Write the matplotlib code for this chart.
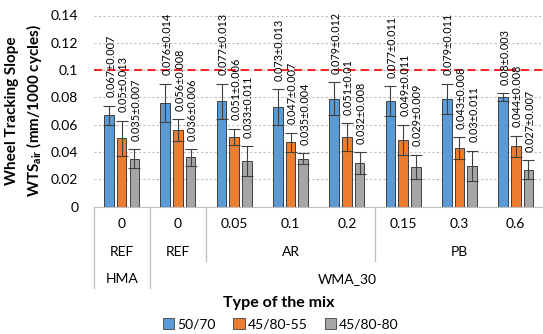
import matplotlib
matplotlib.use("Agg")
import matplotlib.pyplot as plt
from matplotlib.transforms import blended_transform_factory
from matplotlib.patches import Patch

plt.rcParams['font.family'] = ['Lato', 'DejaVu Sans']

dosage = ["0", "0", "0.05", "0.1", "0.2", "0.15", "0.3", "0.6"]
additive = ["REF", "REF", "AR", "AR", "AR", "PB", "PB", "PB"]
mix = ["HMA", "WMA_30", "WMA_30", "WMA_30", "WMA_30", "WMA_30", "WMA_30", "WMA_30"]

series_names = ["50/70", "45/80-55", "45/80-80"]
v_5070 = [0.067, 0.076, 0.077, 0.073, 0.079, 0.077, 0.079, 0.08]
e_5070 = [0.007, 0.014, 0.013, 0.013, 0.012, 0.011, 0.011, 0.003]
v_4580_55 = [0.05, 0.056, 0.051, 0.047, 0.051, 0.049, 0.043, 0.044]
e_4580_55 = [0.013, 0.008, 0.006, 0.007, 0.01, 0.011, 0.008, 0.008]
v_4580_80 = [0.035, 0.036, 0.033, 0.035, 0.032, 0.029, 0.03, 0.027]
e_4580_80 = [0.007, 0.006, 0.011, 0.004, 0.008, 0.009, 0.011, 0.007]
threshold = 0.1

colors = ["#5B9BD5", "#ED7D31", "#A5A5A5"]
values = [v_5070, v_4580_55, v_4580_80]
errors = [e_5070, e_4580_55, e_4580_80]

W, H = 543, 334
fig = plt.figure(figsize=(W / 100, H / 100), dpi=100)
ax = fig.add_axes([93.5 / W, (H - 206.5) / H, 1 - 93.5 / W, 191 / H])

n = len(dosage)
xs = list(range(n))
bw = 0.17
step = 0.225
for i, (vals, errs, c) in enumerate(zip(values, errors, colors)):
    pos = [x + (i - 1) * step for x in xs]
    ax.bar(pos, vals, width=bw, color=c, edgecolor="#404040", linewidth=0.7, zorder=3)
    ax.errorbar(pos, vals, yerr=errs, fmt="none", ecolor="#404040", elinewidth=0.8,
                capsize=4.5, capthick=0.8, zorder=4)
    for p, v, e in zip(pos, vals, errs):
        ax.annotate(f"{v:g}\u00b1{e:g}", (p + 0.03, v + e), xytext=(0, 6),
                    textcoords="offset points", rotation=90, ha="center", va="bottom",
                    fontsize=7.8, color="#000000", zorder=5)

ax.set_ylim(0, 0.14)
ax.set_xlim(-0.5, -0.5 + (W - 93.5) / 56.3)
ax.set_yticks([0, 0.02, 0.04, 0.06, 0.08, 0.1, 0.12, 0.14])
ax.set_yticklabels(["0", "0.02", "0.04", "0.06", "0.08", "0.1", "0.12", "0.14"], fontsize=10)
ax.tick_params(axis="y", length=0, pad=11)
ax.set_xticks([])
ax.yaxis.grid(True, color="#BFBFBF", linestyle=(0, (2, 2)), linewidth=0.8, zorder=0)
for s in ["left", "right", "top"]:
    ax.spines[s].set_visible(False)
ax.spines["bottom"].set_color("#BFBFBF")
ax.axhline(threshold, color="#FF0000", linestyle=(0, (5, 3)), linewidth=1.2, zorder=2)

ax.set_ylabel("Wheel Tracking Slope\nWTS$_{\\mathregular{air}}$ (mm/1000 cycles)",
              fontsize=11, fontweight="bold", labelpad=5, linespacing=1.35)

# multi-level category axis
tr = blended_transform_factory(ax.transData, fig.transFigure)
def fy(py):
    return 1 - py / H

for x, d in zip(xs, dosage):
    fig.text(x, fy(224), d, transform=tr, ha="center", va="center", fontsize=10)
# additive row
groups = []
for i, a in enumerate(additive):
    if groups and groups[-1][0] == a and a != "REF":
        groups[-1][2] = i
    else:
        groups.append([a, i, i])
for a, s, e in groups:
    fig.text((s + e) / 2, fy(252), a, transform=tr, ha="center", va="center", fontsize=10)
# mix row
mgroups = []
for i, m in enumerate(mix):
    if mgroups and mgroups[-1][0] == m:
        mgroups[-1][2] = i
    else:
        mgroups.append([m, i, i])
for m, s, e in mgroups:
    fig.text((s + e) / 2, fy(279), m, transform=tr, ha="center", va="center", fontsize=10)

lc = "#BFBFBF"
for xb, yb in [(-0.5, 288), (0.5, 288), (1.5, 261), (4.5, 261)]:
    ax.plot([xb, xb], [fy(206.5), fy(yb)], transform=tr, color=lc, linewidth=0.9, clip_on=False)

fig.text(278.5 / W, fy(303), "Type of the mix", ha="center", va="center",
         fontsize=11.5, fontweight="bold")

handles = [Patch(facecolor=c, edgecolor="#404040", linewidth=0.6) for c in colors]
fig.legend(handles, series_names, loc="center", bbox_to_anchor=(281 / W, fy(324)), ncol=3,
           frameon=False, fontsize=10, handlelength=0.8, handleheight=0.8,
           handletextpad=0.2, columnspacing=1.3)

fig.savefig("out.png", dpi=100)
